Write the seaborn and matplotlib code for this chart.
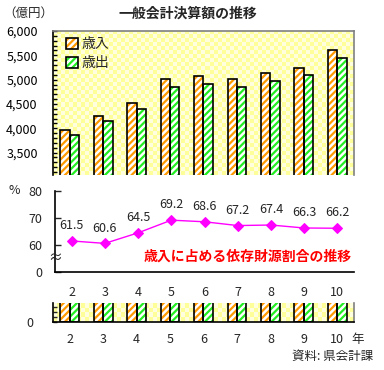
import numpy as np
import pandas as pd
import matplotlib
matplotlib.use('Agg')
import matplotlib.pyplot as plt
import seaborn as sns
from matplotlib.patches import Rectangle, Patch
from matplotlib.legend_handler import HandlerTuple
from matplotlib.ticker import MultipleLocator
from matplotlib.colors import to_rgb
import matplotlib.transforms as mtrans

# ---- data ----
years = ['2', '3', '4', '5', '6', '7', '8', '9', '10']
revenue = [3970, 4255, 4515, 5010, 5070, 5010, 5135, 5235, 5605]      # 歳入
expenditure = [3865, 4150, 4400, 4845, 4905, 4845, 4975, 5090, 5440]  # 歳出
ratio = [61.5, 60.6, 64.5, 69.2, 68.6, 67.2, 67.4, 66.3, 66.2]        # 依存財源割合 %
series_names = ['歳入', '歳出']
ytick_vals = [3500, 4000, 4500, 5000, 5500, 6000]

sns.set_style('white')
plt.rcParams['font.family'] = ['Noto Sans CJK JP', 'DejaVu Sans']
plt.rcParams['hatch.linewidth'] = 1.6

W, H = 384, 370
fig = plt.figure(figsize=(W / 100, H / 100), dpi=100)


def rect(l, t, r, b):
    return [l / W, 1 - b / H, (r - l) / W, (b - t) / H]


ORANGE = '#FF9900'
GREEN = '#22EE22'
colors = {series_names[0]: ORANGE, series_names[1]: GREEN}
HATCH = '/////'

df = pd.DataFrame({
    'year': years * 2,
    'kind': [series_names[0]] * len(years) + [series_names[1]] * len(years),
    'value': revenue + expenditure,
})


def checker(ax, wpx, hpx, cell=4):
    nx, ny = int(wpx / cell), int(hpx / cell)
    a = np.array(to_rgb('#FFFF99'))
    b = np.array(to_rgb('#FFFFE0'))
    idx = (np.add.outer(np.arange(ny), np.arange(nx)) % 2).astype(bool)
    img = np.where(idx[..., None], a, b)
    ax.imshow(img, extent=(0, 1, 0, 1), transform=ax.transAxes, aspect='auto',
              interpolation='nearest', zorder=0)


def bars(ax):
    sns.barplot(data=df, x='year', y='value', hue='kind', palette=colors,
                width=0.56, saturation=1, errorbar=None, legend=False, ax=ax, zorder=2)
    for p in list(ax.patches):
        c = p.get_facecolor()
        p.set_facecolor('white')
        p.set_edgecolor(c)
        p.set_hatch(HATCH)
        p.set_linewidth(0)
        ax.add_patch(Rectangle(p.get_xy(), p.get_width(), p.get_height(), fill=False,
                               edgecolor='black', lw=1.2, zorder=3))
    ax.set_xlabel('')
    ax.set_ylabel('')


# ---- top bar chart ----
ax1 = fig.add_axes(rect(53, 31, 354, 175))
checker(ax1, 301, 144)
bars(ax1)
ax1.set_xlim(-0.5, 8.5)
ax1.set_ylim(3040, 6000)
ax1.set_yticks(ytick_vals)
ax1.set_yticklabels([f'{v:,}' for v in ytick_vals])
ax1.yaxis.set_minor_locator(MultipleLocator(100))
ax1.tick_params(axis='y', which='both', direction='in', length=3, width=1, left=True,
                labelsize=9, pad=11, colors='black')
ax1.tick_params(axis='x', bottom=False, labelbottom=False)
ax1.spines['left'].set_color('black')
ax1.spines['left'].set_linewidth(1.2)
for s in ['top', 'right']:
    ax1.spines[s].set_color('#808080')
    ax1.spines[s].set_linewidth(1.2)
ax1.spines['bottom'].set_visible(False)

handles = [(Patch(facecolor='white', edgecolor=colors[n], hatch=HATCH, lw=0),
            Patch(fill=False, edgecolor='black', lw=1.2)) for n in series_names]
ax1.legend(handles, series_names, handler_map={tuple: HandlerTuple(ndivide=1)},
           loc='upper left', bbox_to_anchor=((66 - 53) / 301, 1 - (37 - 31) / 144),
           frameon=False, handlelength=0.85, handleheight=0.85, handletextpad=0.25,
           labelspacing=0.35, borderpad=0, borderaxespad=0, fontsize=10)

# ---- middle line chart (broken axis) ----
ax2 = fig.add_axes(rect(55, 191, 354, 272))
x_idx = np.arange(len(years))
sns.lineplot(x=x_idx, y=ratio, color='#FF00FF', marker='D', markersize=5,
             markeredgecolor='#FF00FF', lw=1, ax=ax2)
ax2.set_xlim(-0.5, 8.5)
ax2.set_ylim(50, 80)
ax2.set_yticks([50, 60, 70, 80])
ax2.set_yticklabels(['0', '60', '70', '80'])
ax2.set_xticks(x_idx)
ax2.set_xticklabels(years)
ax2.tick_params(axis='y', direction='in', length=4, width=1, left=True, labelsize=9, pad=9)
ax2.tick_params(axis='x', length=0, labelsize=9, pad=10)
for s in ['top', 'right']:
    ax2.spines[s].set_visible(False)
for s in ['left', 'bottom']:
    ax2.spines[s].set_color('black')
    ax2.spines[s].set_linewidth(1.2)
for i, v in enumerate(ratio):
    ax2.annotate(f'{v}', (i, v), xytext=(0, 11), textcoords='offset points',
                 ha='center', va='center', fontsize=9)
btr = mtrans.blended_transform_factory(ax2.transAxes, ax2.transData)
ax2.text(0, 55, '≈', transform=btr, ha='center', va='center', fontsize=10, clip_on=False)
fig.text(352 / W, 1 - 257 / H, '歳入に占める依存財源割合の推移', ha='right', va='center',
         color='#FF0000', fontweight='bold', fontsize=10)
fig.text(14 / W, 1 - 191 / H, '%', ha='center', va='center', fontsize=9)

# ---- bottom strip (base of bar chart) ----
ax3 = fig.add_axes(rect(53, 303, 354, 322))
checker(ax3, 301, 19)
bars(ax3)
ax3.set_xlim(-0.5, 8.5)
ax3.set_ylim(0, 390)
ax3.set_yticks([0])
ax3.set_yticklabels(['0'])
ax3.yaxis.set_minor_locator(MultipleLocator(100))
ax3.tick_params(axis='y', which='both', direction='in', length=3, width=1, left=True,
                labelsize=9, pad=14)
ax3.tick_params(axis='x', length=0, labelsize=9, pad=8)
ax3.spines['top'].set_visible(False)
ax3.spines['right'].set_color('#808080')
ax3.spines['right'].set_linewidth(1.2)
for s in ['left', 'bottom']:
    ax3.spines[s].set_color('black')
    ax3.spines[s].set_linewidth(1.2)
fig.text(358 / W, 1 - 340 / H, '年', ha='center', va='center', fontsize=9)

# ---- titles / notes ----
fig.text(188 / W, 1 - 14 / H, '一般会計決算額の推移', ha='center', va='center',
         fontweight='bold', fontsize=10)
fig.text(3 / W, 1 - 13 / H, '（億円）', ha='left', va='center', fontsize=9)
fig.text(373 / W, 1 - 356 / H, '資料: 県会計課', ha='right', va='center', fontsize=9)

fig.savefig('out.png', dpi=100)
